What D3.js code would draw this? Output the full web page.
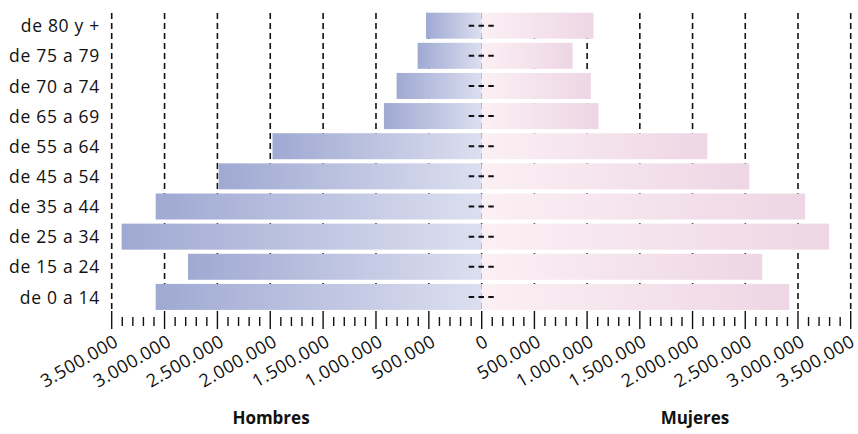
<!DOCTYPE html>
<html><head><meta charset="utf-8">
<script src="https://cdn.jsdelivr.net/npm/d3@7"></script>
<style>
html,body{margin:0;padding:0;background:#fff;}
svg{display:block;}
text{font-family:"Open Sans",Lato,sans-serif;fill:#111;}
</style></head><body>
<svg id="chart" width="858" height="434"></svg>
<script>
const categories = ["de 80 y +","de 75 a 79","de 70 a 74","de 65 a 69","de 55 a 64","de 45 a 54","de 35 a 44","de 25 a 34","de 15 a 24","de 0 a 14"];
const hombres = [527000, 606000, 805000, 925000, 1979000, 2488000, 3084000, 3406000, 2778000, 3084000];
const mujeres = [1060000, 862000, 1035000, 1108000, 2140000, 2538000, 3068000, 3295000, 2661000, 2917000];
const tickValues = [0, 500000, 1000000, 1500000, 2000000, 2500000, 3000000, 3500000];
const minorTicks = d3.range(0, 3500001, 100000);
const seriesLabels = ["Hombres", "Mujeres"];

const svg = d3.select("#chart");
const cx = 481.7;
const xL = d3.scaleLinear().domain([0, 3500000]).range([cx, 111.7]);
const xR = d3.scaleLinear().domain([0, 3500000]).range([cx, 850.7]);
const y = d3.scaleBand().domain(categories).range([10.6, 312]).paddingInner(0.137).paddingOuter(0.069);
const fmt = v => d3.format(",")(v).replace(/,/g, ".");

const defs = svg.append("defs");
const gM = defs.append("linearGradient").attr("id","gm").attr("x1","0").attr("x2","1").attr("y1","0").attr("y2","0");
gM.append("stop").attr("offset","0").attr("stop-color","#9fa9d2");
gM.append("stop").attr("offset","1").attr("stop-color","#dcdff0");
const gF = defs.append("linearGradient").attr("id","gf").attr("x1","0").attr("x2","1").attr("y1","0").attr("y2","0");
gF.append("stop").attr("offset","0").attr("stop-color","#fbf0f4");
gF.append("stop").attr("offset","1").attr("stop-color","#eed6e4");

// grid lines
const grid = svg.append("g");
[[xL, tickValues.slice(1)], [xR, tickValues]].forEach(([sc, vals]) => {
  grid.selectAll(null).data(vals).enter().append("line")
    .attr("x1", d => sc(d)).attr("x2", d => sc(d))
    .attr("y1", 13).attr("y2", 312)
    .attr("stroke", "#111").attr("stroke-width", 1.6).attr("stroke-dasharray", "6,4");
});

// bars
svg.append("g").selectAll("rect").data(categories).enter().append("rect")
  .attr("x", (d,i) => xL(hombres[i])).attr("y", d => y(d))
  .attr("width", (d,i) => cx - xL(hombres[i])).attr("height", y.bandwidth())
  .attr("fill", "url(#gm)");
svg.append("g").selectAll("rect").data(categories).enter().append("rect")
  .attr("x", cx).attr("y", d => y(d))
  .attr("width", (d,i) => xR(mujeres[i]) - cx).attr("height", y.bandwidth())
  .attr("fill", "url(#gf)");

// centre dashes
svg.append("g").selectAll("line").data(categories).enter().append("line")
  .attr("x1", cx - 13).attr("x2", cx + 13)
  .attr("y1", d => y(d) + y.bandwidth()/2).attr("y2", d => y(d) + y.bandwidth()/2)
  .attr("stroke", "#111").attr("stroke-width", 2).attr("stroke-dasharray", "5.5,4.3");

// category labels
svg.append("g").selectAll("text").data(categories).enter().append("text")
  .attr("x", 100).attr("y", d => y(d) + y.bandwidth()/2)
  .attr("dy", "0.38em").attr("text-anchor", "end")
  .style("font-size", "17.5px").style("letter-spacing", "0.7px")
  .text(d => d);

// ticks
const tk = svg.append("g");
[[xL, minorTicks.slice(1)], [xR, minorTicks]].forEach(([sc, vals]) => {
  tk.selectAll(null).data(vals).enter().append("line")
    .attr("x1", d => sc(d)).attr("x2", d => sc(d))
    .attr("y1", d => d % 500000 === 0 ? 311 : 317)
    .attr("y2", d => d % 500000 === 0 ? 329 : 326)
    .attr("stroke", "#111").attr("stroke-width", 1.4);
});

// tick labels
const lbl = svg.append("g");
[[xL, tickValues.slice(1)], [xR, tickValues]].forEach(([sc, vals]) => {
  lbl.selectAll(null).data(vals).enter().append("text")
    .attr("transform", d => `translate(${Math.min(sc(d) + 8, 856)},345) rotate(-30)`)
    .attr("text-anchor", "end")
    .style("font-size", "18px").style("letter-spacing", "0.5px")
    .text(d => fmt(d));
});

// series titles
svg.append("text").attr("x", 271).attr("y", 424).attr("text-anchor", "middle")
  .style("font-size", "17px").style("font-weight", "bold").text(seriesLabels[0]);
svg.append("text").attr("x", 695).attr("y", 424).attr("text-anchor", "middle")
  .style("font-size", "17px").style("font-weight", "bold").text(seriesLabels[1]);
</script>
</body></html>
